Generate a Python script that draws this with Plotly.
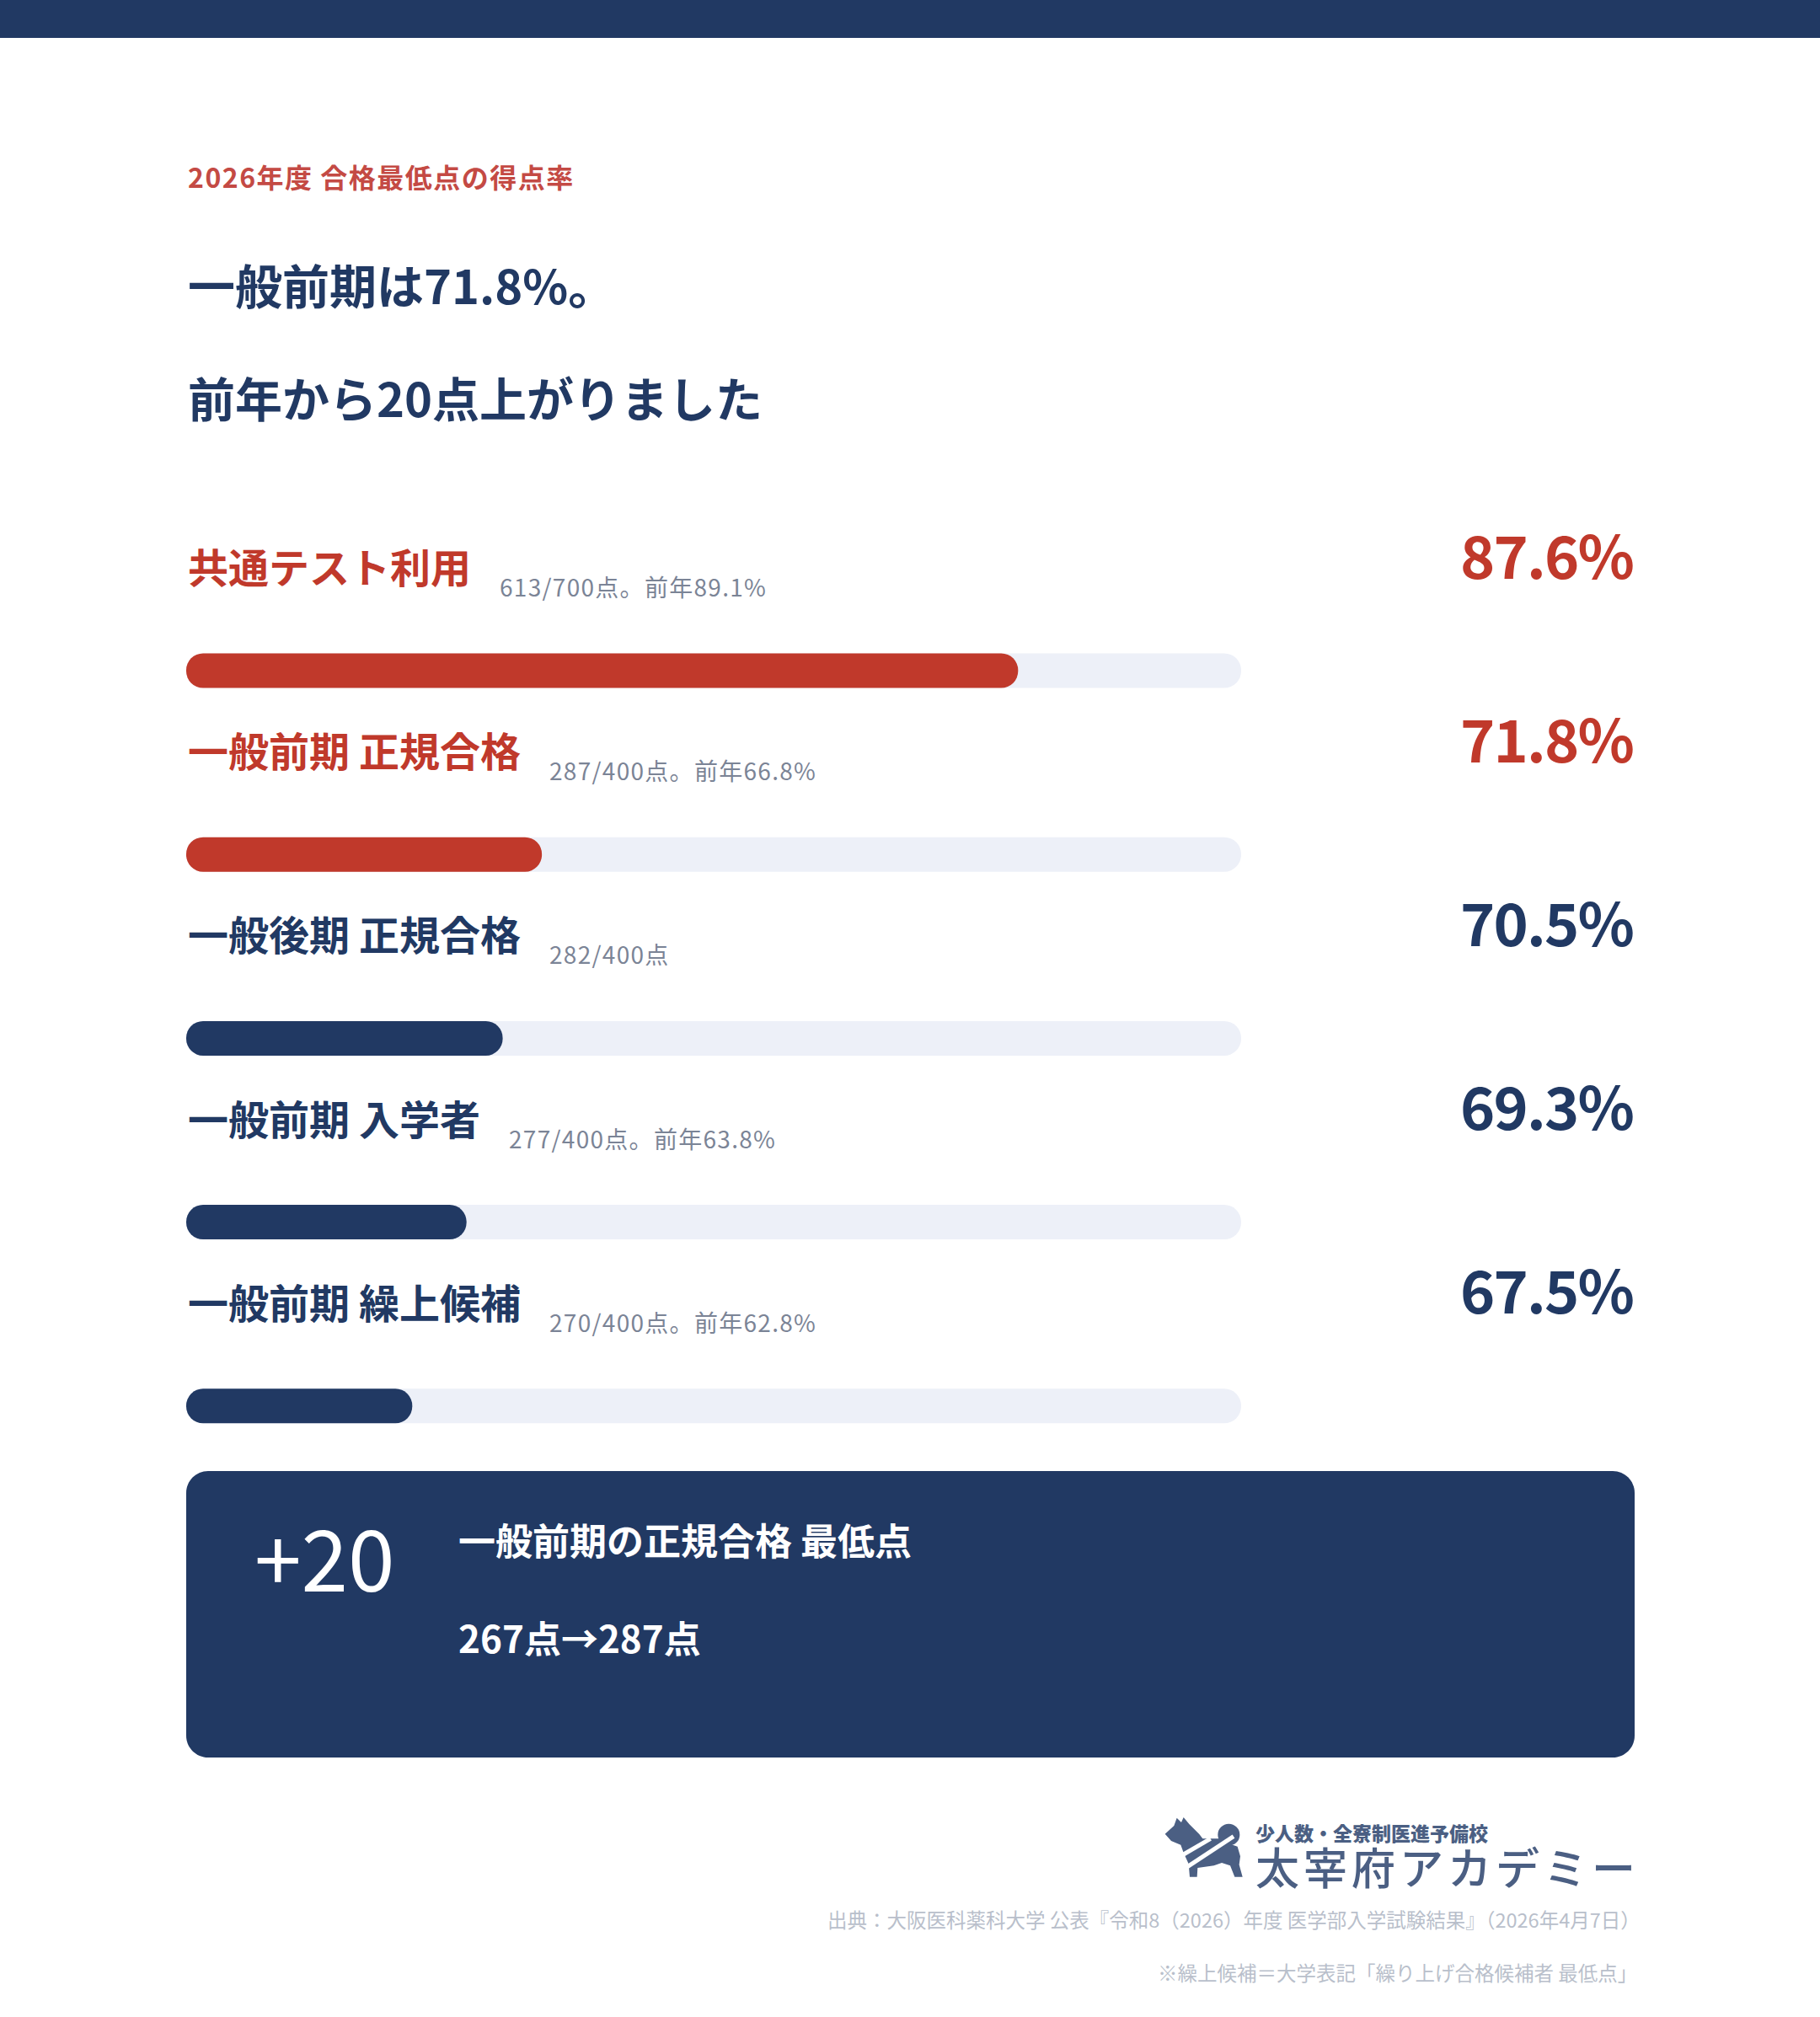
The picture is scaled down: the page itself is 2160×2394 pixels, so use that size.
import plotly.graph_objects as go

W, H = 2160, 2394

# data
categories = ["共通テスト利用", "一般前期 正規合格", "一般後期 正規合格", "一般前期 入学者", "一般前期 繰上候補"]
rates = [87.6, 71.8, 70.5, 69.3, 67.5]
details = ["613/700点。前年89.1%", "287/400点。前年66.8%", "282/400点", "277/400点。前年63.8%", "270/400点。前年62.8%"]
highlight = [True, True, False, False, False]
axis_min, axis_max = 60, 95

RED = "#c0392b"
NAVY = "#213963"
TRACK = "#edf0f8"
GRAY = "#7b8496"
LOGO = "#4b5f83"
FONT = "Noto Sans CJK JP"

# layout helpers (pixels -> paper)
ROW0, STEP, BAR_PX = 796, 218.2, 41
LEFT, RIGHT = 221, 1940
TRACK_RIGHT = 1473


def px(x):
    return x / W


def py(y):
    return 1 - y / H


def spaced(t, s):
    return f'<span style="letter-spacing:{s}px">{t}</span>'


def text_em(t):
    return sum(0.224 if c == " " else 1.0 for c in t)


rows = list(range(len(categories)))
bar_w = BAR_PX / STEP
fill_colors = [RED if h else NAVY for h in highlight]

fig = go.Figure()
# background track
fig.add_trace(go.Bar(
    y=rows, x=[axis_max - axis_min] * len(rows), base=[axis_min] * len(rows),
    orientation="h", width=bar_w, marker=dict(color=TRACK, line=dict(width=0)),
    hoverinfo="skip", showlegend=False))
# value bars
fig.add_trace(go.Bar(
    y=rows, x=[v - axis_min for v in rates], base=[axis_min] * len(rows),
    orientation="h", width=bar_w, marker=dict(color=fill_colors, line=dict(width=0)),
    customdata=rates, hovertemplate="%{customdata}%<extra></extra>", showlegend=False))

ann = []


def note(text, x, y, size, color, weight=400, xanchor="left", yref="paper"):
    ann.append(dict(text=text, x=x, y=y, xref="paper", yref=yref, xanchor=xanchor,
                    yanchor="middle", showarrow=False, align="left",
                    font=dict(family=FONT, size=size, color=color, weight=weight)))


# header
note(spaced("2026年度 合格最低点の得点率", 1.5), px(LEFT), py(209), 32, "#c44a44", 700)
note("一般前期は71.8%。", px(LEFT), py(336), 56, NAVY, 700)
note("前年から20点上がりました", px(LEFT), py(471), 56, NAVY, 700)

# row labels (offsets from each bar's centre, in row units)
for i, (cat, det, v, c) in enumerate(zip(categories, details, rates, fill_colors)):
    note(cat, px(LEFT), i - 125 / STEP, 48, c, 700, yref="y")
    note(spaced(det, 1.3), px(LEFT + text_em(cat) * 48 + 34), i - 100 / STEP, 28, GRAY, 400, yref="y")
    note(spaced(f"{v:.1f}%", -1.8), px(RIGHT), i - 140 / STEP, 70, c, 700, xanchor="right", yref="y")

# summary box text
note("+20", px(300), py(1845), 100, "white", 400)
note("一般前期の正規合格 最低点", px(LEFT + 321), py(1827), 44, "white", 700)
note("267点→287点", px(LEFT + 321), py(1943), 44, "white", 700)

# logo (two lines in one text so the boxes do not collide) and footer
note('<span style="font-size:23px;font-weight:900">少人数・全寮制医進予備校</span><br>'
     '<span style="font-size:52px;font-weight:500;letter-spacing:5px">太宰府アカデミー</span>',
     px(1488), py(2205), 40, LOGO, 500)
note("出典：大阪医科薬科大学 公表『令和8（2026）年度 医学部入学試験結果』（2026年4月7日）",
     px(RIGHT + 9), py(2278), 23.5, "#b9bfcb", 400, xanchor="right")
note("※繰上候補＝大学表記「繰り上げ合格候補者 最低点」", px(RIGHT + 5), py(2341), 23.5, "#b9bfcb", 400,
     xanchor="right")


def path_from(pts, close=True):
    s = "M " + " L ".join(f"{px(x):.5f},{py(y):.5f}" for x, y in pts)
    return s + (" Z" if close else "")


def rounded_rect(x0, y0, x1, y1, r):
    k = r * 0.4477
    P = lambda x, y: f"{px(x):.5f},{py(y):.5f}"
    return (f"M {P(x0 + r, y0)} L {P(x1 - r, y0)} C {P(x1 - k, y0)} {P(x1, y0 + k)} {P(x1, y0 + r)} "
            f"L {P(x1, y1 - r)} C {P(x1, y1 - k)} {P(x1 - k, y1)} {P(x1 - r, y1)} "
            f"L {P(x0 + r, y1)} C {P(x0 + k, y1)} {P(x0, y1 - k)} {P(x0, y1 - r)} "
            f"L {P(x0, y0 + r)} C {P(x0, y0 + k)} {P(x0 + k, y0)} {P(x0 + r, y0)} Z")


# dog silhouette (rough), drawn in logo-local coordinates
def dog(pts):
    return [(1370 + x / 3, 2145 + y / 3) for x, y in pts]


dog_body = dog([(38, 95), (70, 66), (80, 38), (96, 54), (104, 36), (124, 60), (160, 96), (172, 112),
                (232, 112), (262, 128), (296, 140), (306, 175), (302, 205), (314, 248), (286, 248),
                (270, 208), (240, 198), (212, 208), (154, 216), (152, 248), (126, 248), (122, 202),
                (104, 162), (94, 134), (60, 120)])
tail_c = (1370 + 265 / 3, 2145 + 98 / 3)

shapes = [
    dict(type="rect", xref="paper", yref="paper", x0=0, x1=1, y0=py(45), y1=1,
         fillcolor=NAVY, line=dict(width=0), layer="below"),
    dict(type="path", xref="paper", yref="paper", path=rounded_rect(LEFT, 1746, RIGHT, 2086, 26),
         fillcolor=NAVY, line=dict(width=0), layer="below"),
    dict(type="path", xref="paper", yref="paper", path=path_from(dog_body),
         fillcolor=LOGO, line=dict(width=0)),
    dict(type="circle", xref="paper", yref="paper", x0=px(tail_c[0] - 13), x1=px(tail_c[0] + 13),
         y0=py(tail_c[1] + 13), y1=py(tail_c[1] - 13), fillcolor=LOGO, line=dict(width=0)),
    dict(type="path", xref="paper", yref="paper",
         path=path_from(dog([(118, 212), (282, 104)]), close=False), line=dict(color="white", width=5)),
    dict(type="path", xref="paper", yref="paper",
         path=path_from(dog([(104, 168), (200, 112)]), close=False), line=dict(color="white", width=5)),
]

y_top = -ROW0 / STEP
y_bottom = (H - ROW0) / STEP

fig.update_layout(
    width=W, height=H, margin=dict(l=0, r=0, t=0, b=0),
    paper_bgcolor="white", plot_bgcolor="rgba(0,0,0,0)",
    barmode="overlay", barcornerradius="50%",
    xaxis=dict(domain=[px(LEFT), px(TRACK_RIGHT)], range=[axis_min, axis_max], visible=False, fixedrange=True),
    yaxis=dict(domain=[0, 1], range=[y_bottom, y_top], visible=False, fixedrange=True),
    annotations=ann, shapes=shapes, font=dict(family=FONT),
)

fig.write_html("out.html", config={"displayModeBar": False},
               post_script="document.body.style.margin='0px';")
